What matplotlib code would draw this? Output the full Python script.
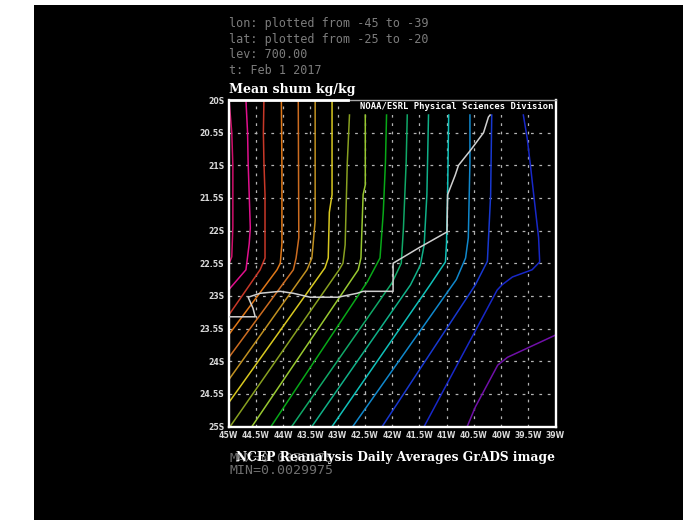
import matplotlib

matplotlib.use("Agg")
import matplotlib.pyplot as plt
from matplotlib.patches import Rectangle

HEADER = ["lon: plotted from -45 to -39", "lat: plotted from -25 to -20", "lev: 700.00", "t: Feb 1 2017"]
TITLE = "Mean shum kg/kg"
LABEL = "NOAA/ESRL Physical Sciences Division"
FOOTER = "NCEP Reanalysis Daily Averages GrADS image"
MAX_TXT = "MAX=0.0075175"
MIN_TXT = "MIN=0.0029975"

LON_TICKS = [-45, -44.5, -44, -43.5, -43, -42.5, -42, -41.5, -41, -40.5, -40, -39.5, -39]
LON_LABELS = ["45W", "44.5W", "44W", "43.5W", "43W", "42.5W", "42W", "41.5W", "41W", "40.5W", "40W", "39.5W", "39W"]
LAT_TICKS = [-25, -24.5, -24, -23.5, -23, -22.5, -22, -21.5, -21, -20.5, -20]
LAT_LABELS = ["25S", "24.5S", "24S", "23.5S", "23S", "22.5S", "22S", "21.5S", "21S", "20.5S", "20S"]

# shum contours, west to east along the top
c1_lon = [-44.99, -44.94, -44.92, -44.92, -44.94, -45.0]
c1_lat = [-20.0, -20.5, -21.0, -21.95, -22.4, -22.53]
c2_lon = [-44.68, -44.65, -44.64, -44.62, -44.60, -44.62, -44.68, -45.0]
c2_lat = [-20.0, -20.5, -20.95, -21.45, -21.96, -22.2, -22.6, -22.91]
c3_lon = [-44.35, -44.36, -44.35, -44.33, -44.33, -44.42, -45.0]
c3_lat = [-20.0, -20.5, -20.95, -21.45, -22.42, -22.60, -23.3]
c4_lon = [-44.03, -44.02, -44.02, -44.05, -44.11, -45.0]
c4_lat = [-20.0, -21.0, -22.2, -22.5, -22.60, -23.6]
c5_lon = [-43.72, -43.71, -43.76, -43.81, -45.0]
c5_lat = [-20.0, -22.11, -22.42, -22.60, -23.95]
c6_lon = [-43.41, -43.41, -43.47, -43.56, -45.0]
c6_lat = [-20.0, -21.85, -22.42, -22.60, -24.29]
c7_lon = [-43.10, -43.10, -43.15, -43.17, -43.23, -45.0]
c7_lat = [-20.0, -21.45, -21.72, -22.42, -22.57, -24.64]
c8_lon = [-42.78, -42.82, -42.86, -42.90, -42.97, -44.97]
c8_lat = [-20.23, -20.95, -22.22, -22.5, -22.60, -25.0]
c9_lon = [-42.49, -42.49, -42.53, -42.57, -42.62, -44.57]
c9_lat = [-20.23, -21.3, -21.45, -22.42, -22.60, -25.0]
c10_lon = [-42.10, -42.12, -42.16, -42.22, -42.45, -44.22]
c10_lat = [-20.23, -20.95, -21.72, -22.42, -22.78, -25.0]
c11_lon = [-41.72, -41.74, -41.79, -41.83, -42.0, -43.84]
c11_lat = [-20.23, -20.95, -21.96, -22.5, -22.8, -25.0]
c12_lon = [-41.33, -41.36, -41.41, -41.48, -41.66, -43.47]
c12_lat = [-20.23, -21.45, -22.22, -22.53, -22.83, -25.0]
c13_lon = [-40.96, -40.98, -41.0, -41.02, -41.30, -43.10]
c13_lat = [-20.23, -21.45, -22.2, -22.48, -22.83, -25.0]
c14_lon = [-40.57, -40.57, -40.60, -40.65, -40.82, -42.72]
c14_lat = [-20.23, -20.95, -22.11, -22.42, -22.75, -25.0]
c15_lon = [-40.17, -40.19, -40.25, -40.47, -42.18]
c15_lat = [-20.23, -21.45, -22.47, -22.83, -25.0]
c16_lon = [-39.59, -39.52, -39.46, -39.40, -39.31, -39.29, -39.43, -39.79, -39.98, -40.07, -41.41]
c16_lat = [-20.23, -20.58, -21.0, -21.45, -22.11, -22.48, -22.60, -22.71, -22.83, -22.91, -25.0]
c17_lon = [-40.62, -40.47, -40.06, -39.88, -39.0]
c17_lat = [-25.0, -24.70, -24.06, -23.94, -23.6]

CONTOURS = [(c1_lon, c1_lat), (c2_lon, c2_lat), (c3_lon, c3_lat), (c4_lon, c4_lat), (c5_lon, c5_lat),
            (c6_lon, c6_lat), (c7_lon, c7_lat), (c8_lon, c8_lat), (c9_lon, c9_lat), (c10_lon, c10_lat),
            (c11_lon, c11_lat), (c12_lon, c12_lat), (c13_lon, c13_lat), (c14_lon, c14_lat), (c15_lon, c15_lat),
            (c16_lon, c16_lat), (c17_lon, c17_lat)]
COLORS = ["#d0106c", "#e0108c", "#c83828", "#e07818", "#cc6c20", "#c09020", "#d8c820", "#88a020", "#98c830",
          "#08a818", "#10a868", "#10b088", "#10c0b8", "#1088cc", "#1838d0", "#1828c8", "#7010a8"]

# state border
border_lon = [-45.0, -44.51, -44.55, -44.64, -44.42, -44.05, -43.81, -43.50, -42.99, -42.64, -42.53, -41.98,
              -41.98, -41.52, -40.99, -40.98, -40.84, -40.78, -40.56, -40.32, -40.23, -40.2]
border_lat = [-23.32, -23.32, -23.19, -23.02, -22.96, -22.93, -22.96, -23.02, -23.02, -22.96, -22.93, -22.93,
              -22.5, -22.27, -22.02, -21.45, -21.15, -21.0, -20.77, -20.5, -20.26, -20.23]

W, H = 683, 520
fig = plt.figure(figsize=(W / 100, H / 100), dpi=100, facecolor="white")
bg = Rectangle((34 / W, 0), 1 - 34 / W, 1 - 5 / H, transform=fig.transFigure, fc="black", ec="none", zorder=-5)
fig.add_artist(bg)
ax = fig.add_axes([228.5 / W, 1 - 426.5 / H, 327 / W, 326.5 / H], facecolor="black")
ax.set_xlim(-45, -39)
ax.set_ylim(-25, -20)

for x in LON_TICKS[1:-1]:
    ax.axvline(x, color="#b4b4b4", lw=0.9, ls=(0, (2.2, 4.5)), zorder=1)
for y in LAT_TICKS[1:-1]:
    ax.axhline(y, color="#b4b4b4", lw=0.9, ls=(0, (2.2, 4.5)), zorder=1)
ax.add_patch(Rectangle((-42.8, -20.23), 3.8, 0.23, fc="black", ec="none", zorder=1.5))

for (lon, lat), col in zip(CONTOURS, COLORS):
    ax.plot(lon, lat, color=col, lw=1.1, zorder=2, clip_on=True)
ax.plot(border_lon, border_lat, color="#d0d0d0", lw=1.1, zorder=3)

ax.set_xticks(LON_TICKS, LON_LABELS)
ax.set_yticks(LAT_TICKS, LAT_LABELS)
ax.tick_params(length=0, colors="white", labelsize=5.6, pad=3)
for t in ax.get_xticklabels() + ax.get_yticklabels():
    t.set_fontweight("bold")
    t.set_color("#d8d8d8")

for name in ["left", "bottom", "right"]:
    ax.spines[name].set_color("white")
    ax.spines[name].set_linewidth(1.7)
ax.spines["top"].set_color("#a8a8a8")
ax.spines["top"].set_linewidth(1.0)
ax.plot([-45, -42.8], [-20, -20], color="white", lw=2, clip_on=False, zorder=4)

ax.text(-39.03, -20.1, LABEL, color="white", fontsize=6.4, family="DejaVu Sans Mono", fontweight="bold",
        ha="right", va="center", zorder=5)


def px_text(x, y, s, **kw):
    fig.text(x / W, 1 - y / H, s, va="center", ha="left", **kw)


for y, s in zip([23, 39, 54, 70], HEADER):
    px_text(229, y, s, color="#7c7c7c", fontsize=8.5, family="DejaVu Sans Mono")
px_text(229, 89, TITLE, color="white", fontsize=9.1, family="DejaVu Serif", fontweight="bold")
px_text(230, 458, MAX_TXT, color="#6c6c6c", fontsize=9.5, family="DejaVu Sans Mono")
px_text(230, 471, MIN_TXT, color="#707070", fontsize=9.5, family="DejaVu Sans Mono")
px_text(236, 458, FOOTER, color="white", fontsize=8.8, family="DejaVu Serif", fontweight="bold")

fig.savefig("out.png", dpi=100, facecolor="white")
